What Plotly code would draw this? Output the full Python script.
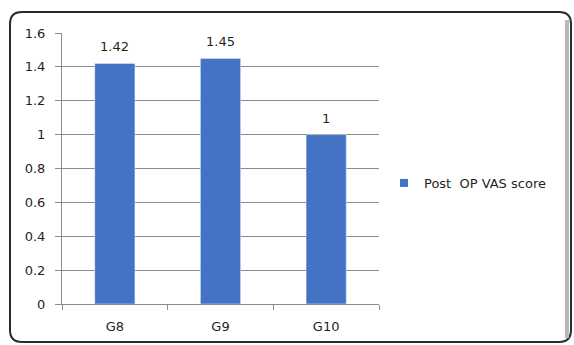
import plotly.graph_objects as go

# Post-operative VAS score per group
groups = ["G8", "G9", "G10"]
vas_scores = [1.42, 1.45, 1]
value_labels = ["1.42", "1.45", "1"]
y_ticks = [0, 0.2, 0.4, 0.6, 0.8, 1, 1.2, 1.4, 1.6]
y_tick_labels = ["0", "0.2", "0.4", "0.6", "0.8", "1", "1.2", "1.4", "1.6"]
series_name = "Post\u00a0 OP VAS score"

W, H = 574, 345
L, R, T, B = 62, 195, 33, 41
PW, PH = W - L - R, H - T - B

BAR_COLOR = "#4472C4"
FONT = "DejaVu Sans"
TEXT_COLOR = "#1f1f1f"


def px_to_paper(px, py):
    return (px - L) / PW, (H - B - py) / PH


fig = go.Figure()
fig.add_trace(go.Bar(
    x=groups, y=vas_scores, marker_color=BAR_COLOR, width=0.38,
    showlegend=False,
))
# legend entry with a small square swatch
fig.add_trace(go.Scatter(
    x=[None], y=[None], mode="markers", name=series_name,
    marker=dict(symbol="square", size=8, color=BAR_COLOR),
))

for g, v, t in zip(groups, vas_scores, value_labels):
    fig.add_annotation(x=g, y=v, text=t, showarrow=False, yanchor="bottom",
                       yshift=7, font=dict(family=FONT, size=13, color=TEXT_COLOR))

# rounded chart-area frame
x0, y0 = px_to_paper(10, 12)
x1, y1 = px_to_paper(571, 342)
rx, ry = 12 / PW, 12 / PH
path = (f"M {x0+rx},{y0} L {x1-rx},{y0} Q {x1},{y0} {x1},{y0-ry} "
        f"L {x1},{y1+ry} Q {x1},{y1} {x1-rx},{y1} L {x0+rx},{y1} "
        f"Q {x0},{y1} {x0},{y1+ry} L {x0},{y0-ry} Q {x0},{y0} {x0+rx},{y0} Z")
fig.add_shape(type="path", path=path, xref="paper", yref="paper",
              line=dict(color="#2a2a2a", width=2), layer="below")
# soft shadow along right edge
sx0, sy0 = px_to_paper(567, 20)
sx1, sy1 = px_to_paper(567, 338)
fig.add_shape(type="line", x0=sx0, y0=sy0, x1=sx1, y1=sy1, xref="paper", yref="paper",
              line=dict(color="#b8b8b8", width=4), layer="below")

lx, ly = px_to_paper(384, 183)
fig.update_layout(
    width=W, height=H,
    margin=dict(l=L, r=R, t=T, b=B),
    paper_bgcolor="white", plot_bgcolor="white",
    font=dict(family=FONT, size=13, color=TEXT_COLOR),
    legend=dict(x=lx, y=ly, xanchor="left", yanchor="middle",
                font=dict(family=FONT, size=13, color=TEXT_COLOR),
                bgcolor="rgba(0,0,0,0)"),
    xaxis=dict(showline=True, linecolor="#8c8c8c", linewidth=1,
               ticks="outside", ticklen=5, tickcolor="#8c8c8c",
               tickson="boundaries", showgrid=False, fixedrange=True,
               ticklabelstandoff=10),
    yaxis=dict(range=[0, 1.6], tickvals=y_ticks, ticktext=y_tick_labels,
               showline=True, linecolor="#8c8c8c", linewidth=1,
               ticks="outside", ticklen=6, tickcolor="#8c8c8c",
               showgrid=True, gridcolor="#8c8c8c", gridwidth=1,
               zeroline=False, fixedrange=True, ticklabelstandoff=7),
    bargap=0.62,
)

fig.write_html("out.html")
